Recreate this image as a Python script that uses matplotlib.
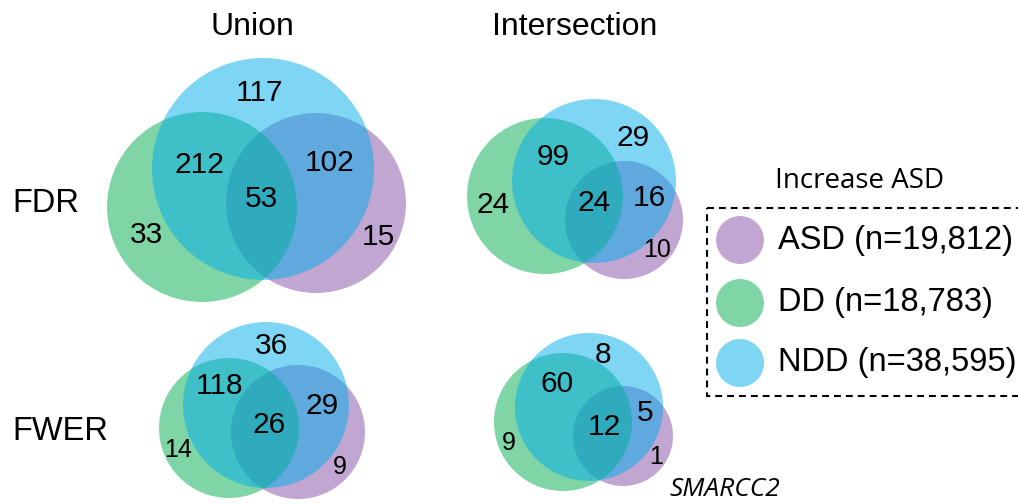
import matplotlib
matplotlib.use("Agg")
from matplotlib import pyplot as plt
from matplotlib.patches import Circle, Rectangle

# region counts, order: DD only, NDD only, ASD only, DD&NDD, NDD&ASD, all three
regions = ["DD", "NDD", "ASD", "DD&NDD", "NDD&ASD", "DD&NDD&ASD"]
union_fdr = [33, 117, 15, 212, 102, 53]
inter_fdr = [24, 29, 10, 99, 16, 24]
union_fwer = [14, 36, 9, 118, 29, 26]
inter_fwer = [9, 8, 1, 60, 5, 12]

col_titles = ["Union", "Intersection"]
row_titles = ["FDR", "FWER"]
legend_title = "Increase ASD"
legend_labels = ["ASD (n=19,812)", "DD (n=18,783)", "NDD (n=38,595)"]
note = "SMARCC2"

# colours, drawn at alpha 0.5 (ASD, DD, NDD)
colors = {"ASD": "#874fa7", "DD": "#01ad4d", "NDD": "#00adeb"}
alpha = 0.5

# layout in pixel units: circle (cx, cy, r) and label anchor per region
layout = {
    "union_fdr": {
        "circles": {"ASD": (316, 203, 90), "DD": (202, 207, 95), "NDD": (263, 169, 111)},
        "labels": [(146, 235), (260, 93), (378, 237), (199, 165), (330, 163), (261, 199)],
        "small": [],
    },
    "inter_fdr": {
        "circles": {"ASD": (624, 220, 59), "DD": (545, 196, 78), "NDD": (594, 181, 82)},
        "labels": [(493, 205), (633, 138), (657, 250), (553, 157), (649, 198), (594, 203)],
        "small": [2],
    },
    "union_fwer": {
        "circles": {"ASD": (298, 432, 67), "DD": (229, 428, 70), "NDD": (266, 405, 83)},
        "labels": [(178, 450), (271, 346), (340, 467), (220, 386), (322, 406), (269, 425)],
        "small": [0, 2],
    },
    "inter_fwer": {
        "circles": {"ASD": (623, 436, 50), "DD": (563, 422, 69), "NDD": (589, 407, 74)},
        "labels": [(509, 443), (603, 355), (656, 457), (557, 384), (645, 413), (604, 427)],
        "small": [0, 2],
    },
}
panels = {"union_fdr": union_fdr, "inter_fdr": inter_fdr,
          "union_fwer": union_fwer, "inter_fwer": inter_fwer}

font = "Liberation Sans"

fig = plt.figure(figsize=(10.18, 5.04), dpi=100)
ax = fig.add_axes([0, 0, 1, 1])
ax.set_xlim(0, 1018)
ax.set_ylim(504, 0)
ax.axis("off")

for name, counts in panels.items():
    lay = layout[name]
    for key in ["ASD", "DD", "NDD"]:
        cx, cy, r = lay["circles"][key]
        ax.add_patch(Circle((cx, cy), r, facecolor=colors[key], alpha=alpha,
                            edgecolor="none", zorder=1))
    for i, value in enumerate(counts):
        x, y = lay["labels"][i]
        size = 18 if i in lay["small"] else 21.5
        ax.text(x, y, str(value), ha="center", va="center", fontsize=size,
                family=font, zorder=3)

# column and row titles
for txt, x in zip(col_titles, [252, 575]):
    ax.text(x, 27, txt, ha="center", va="center", fontsize=23, family=font)
for txt, y in zip(row_titles, [203, 432]):
    ax.text(12, y, txt, ha="left", va="center", fontsize=23.5, family=font)

# legend (box runs off the right edge, as in the source figure)
ax.text(860, 181, legend_title, ha="center", va="center", fontsize=20, family="Open Sans")
ax.add_patch(Rectangle((707, 208), 330, 188, fill=False, edgecolor="black",
                       linewidth=1.5, linestyle=(0, (3.3, 2.4))))
for key, label, y in zip(["ASD", "DD", "NDD"], legend_labels, [240, 303, 363]):
    ax.add_patch(Circle((740, y), 24, facecolor=colors[key], alpha=alpha, edgecolor="none"))
    ax.text(778, y, label, ha="left", va="center", fontsize=23.5, family=font)

ax.text(670, 489, note, ha="left", va="center", fontsize=19, style="italic",
        family="Open Sans")

fig.savefig("out.png", dpi=100)
